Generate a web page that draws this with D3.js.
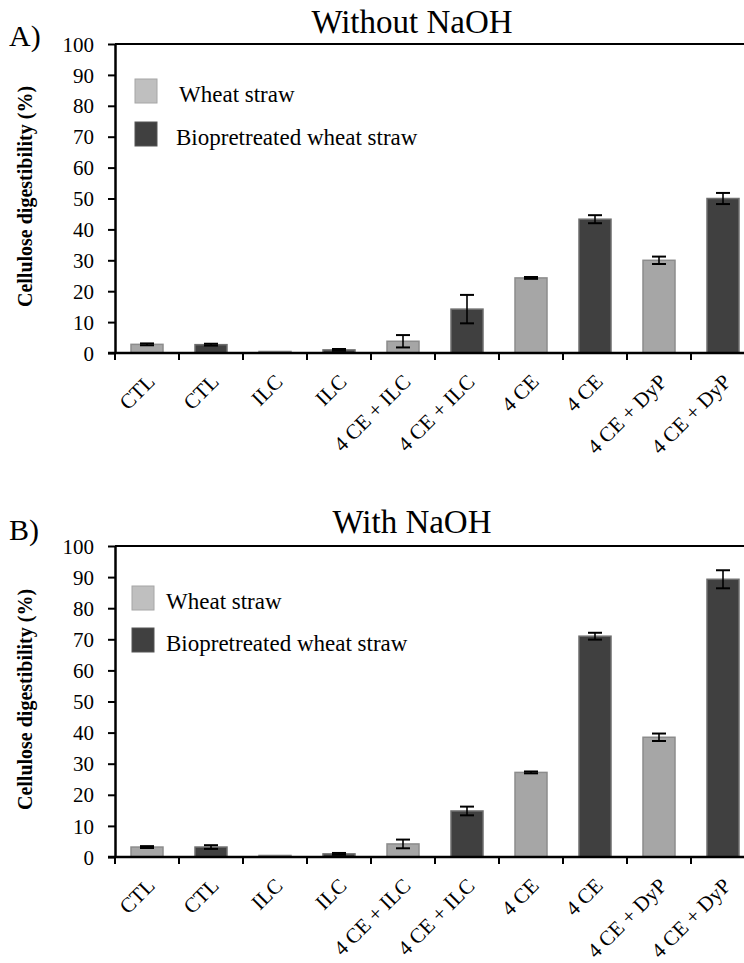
<!DOCTYPE html>
<html>
<head>
<meta charset="utf-8">
<script src="https://cdn.jsdelivr.net/npm/d3@7"></script>
<style>
  body { margin: 0; background: #fff; }
  text { font-family: "Liberation Serif", "Times New Roman", serif; }
</style>
</head>
<body>
<div class="canvas"></div>
<script>
const dims = { width: 744, height: 963 };

// categories along the x axis
const categories = ['CTL', 'CTL', 'ILC', 'ILC', '4 CE + ILC', '4 CE + ILC', '4 CE', '4 CE', '4 CE + DyP', '4 CE + DyP'];
// 0 = wheat straw, 1 = biopretreated wheat straw
const series = [0, 1, 0, 1, 0, 1, 0, 1, 0, 1];
const seriesNames = ['Wheat straw', 'Biopretreated wheat straw'];

// panel A: without NaOH
const valuesA = [2.8, 2.7, 0.5, 1.0, 3.8, 14.2, 24.3, 43.3, 30.0, 50.0];
const errorsA = [0.3, 0.3, 0.0, 0.3, 2.0, 4.6, 0.3, 1.3, 1.2, 1.8];
// panel B: with NaOH
const valuesB = [3.2, 3.2, 0.5, 1.0, 4.2, 14.8, 27.2, 71.0, 38.5, 89.3];
const errorsB = [0.3, 0.6, 0.0, 0.3, 1.4, 1.4, 0.3, 1.1, 1.2, 2.9];

const yTicks = [0, 10, 20, 30, 40, 50, 60, 70, 80, 90, 100];

const fills = ['#a6a6a6', '#404040'];
const strokes = ['#8c8c8c', '#6e6e6e'];
const legendFills = ['#bfbfbf', '#404040'];

const svg = d3.select('.canvas').append('svg')
  .attr('width', dims.width)
  .attr('height', dims.height);

const x = d3.scaleBand()
  .domain(d3.range(categories.length))
  .range([115, 755])
  .paddingInner(0.5)
  .paddingOuter(0.25);

function drawPanel(cfg) {
  const y = d3.scaleLinear().domain([0, 100]).range([cfg.y0, cfg.y100]);
  const g = svg.append('g');

  // panel letter and title
  g.append('text').attr('x', 9).attr('y', cfg.letterY)
    .style('font-size', '30px').text(cfg.letter);
  g.append('text').attr('x', 412).attr('y', cfg.titleY)
    .attr('text-anchor', 'middle')
    .style('font-size', '33px').text(cfg.title);

  // top border of plot area
  g.append('line')
    .attr('x1', 115).attr('x2', 760)
    .attr('y1', y(100)).attr('y2', y(100))
    .attr('stroke', '#000').attr('stroke-width', 2);

  // bars
  g.selectAll('rect.bar')
    .data(cfg.values)
    .enter()
    .append('rect')
      .attr('class', 'bar')
      .attr('x', (d, i) => x(i))
      .attr('width', x.bandwidth())
      .attr('y', d => y(d))
      .attr('height', d => y(0) - y(d))
      .attr('fill', (d, i) => fills[series[i]])
      .attr('stroke', (d, i) => strokes[series[i]])
      .attr('stroke-width', 1.5);

  // error bars
  const eb = g.selectAll('g.err')
    .data(cfg.values.map((v, i) => ({ v, e: cfg.errors[i], i })).filter(d => d.e > 0))
    .enter()
    .append('g')
      .attr('transform', d => `translate(${x(d.i) + x.bandwidth() / 2}, 0)`);
  eb.append('line')
    .attr('y1', d => y(d.v + d.e)).attr('y2', d => y(d.v - d.e))
    .attr('stroke', '#000').attr('stroke-width', 1.6);
  eb.append('line')
    .attr('x1', -7).attr('x2', 7)
    .attr('y1', d => y(d.v + d.e)).attr('y2', d => y(d.v + d.e))
    .attr('stroke', '#000').attr('stroke-width', 2);
  eb.append('line')
    .attr('x1', -7).attr('x2', 7)
    .attr('y1', d => y(d.v - d.e)).attr('y2', d => y(d.v - d.e))
    .attr('stroke', '#000').attr('stroke-width', 2);

  // y axis
  const yAxis = d3.axisLeft(y).tickValues(yTicks).tickSize(7).tickSizeOuter(0).tickPadding(14);
  const ya = g.append('g').attr('transform', 'translate(115, 0)').call(yAxis);
  ya.select('.domain').attr('stroke-width', 2.5);
  ya.selectAll('.tick line').attr('stroke-width', 2);
  ya.selectAll('.tick text')
    .style('font-family', '"Liberation Serif", serif')
    .style('font-size', '21px').attr('dy', '0.34em');

  // x axis line with ticks at category boundaries
  g.append('line')
    .attr('x1', 108).attr('x2', 760)
    .attr('y1', y(0)).attr('y2', y(0))
    .attr('stroke', '#000').attr('stroke-width', 2.5);
  g.selectAll('line.xt')
    .data(d3.range(categories.length))
    .enter()
    .append('line')
      .attr('x1', i => x(i) - x.step() * 0.25).attr('x2', i => x(i) - x.step() * 0.25)
      .attr('y1', y(0)).attr('y2', y(0) + 7)
      .attr('stroke', '#000').attr('stroke-width', 2);

  // rotated category labels
  g.selectAll('text.cat')
    .data(categories)
    .enter()
    .append('text')
      .attr('class', 'cat')
      .attr('text-anchor', 'end')
      .attr('transform', (d, i) => `translate(${x(i) + x.bandwidth() / 2 + 9}, ${y(0) + 30}) rotate(-45)`)
      .style('font-size', '21px')
      .text(d => d);

  // y axis label
  g.append('text')
    .attr('transform', `translate(32, ${(y(0) + y(100)) / 2 - 2}) rotate(-90)`)
    .attr('text-anchor', 'middle')
    .style('font-size', '20px').style('font-weight', 'bold')
    .text('Cellulose digestibility (%)');

  // legend
  const lg = g.selectAll('g.leg')
    .data(seriesNames)
    .enter()
    .append('g')
      .attr('transform', (d, i) => `translate(${cfg.legX}, ${cfg.legY + i * cfg.legGap})`);
  lg.append('rect')
    .attr('x', 0).attr('y', -12).attr('width', 22).attr('height', 24)
    .attr('fill', (d, i) => legendFills[i])
    .attr('stroke', (d, i) => i === 0 ? '#a6a6a6' : '#555')
    .attr('stroke-width', 1);
  lg.append('text')
    .attr('x', (d, i) => cfg.legTextX[i]).attr('y', 11)
    .style('font-size', '23px')
    .text(d => d);
}

drawPanel({ letter: 'A)', title: 'Without NaOH', y0: 353, y100: 44, letterY: 46, titleY: 33,
  values: valuesA, errors: errorsA, legX: 135, legY: 91, legGap: 43, legTextX: [44, 41] });
drawPanel({ letter: 'B)', title: 'With NaOH', y0: 857, y100: 546, letterY: 540, titleY: 533,
  values: valuesB, errors: errorsB, legX: 132, legY: 598, legGap: 42, legTextX: [34, 34] });
</script>
</body>
</html>
